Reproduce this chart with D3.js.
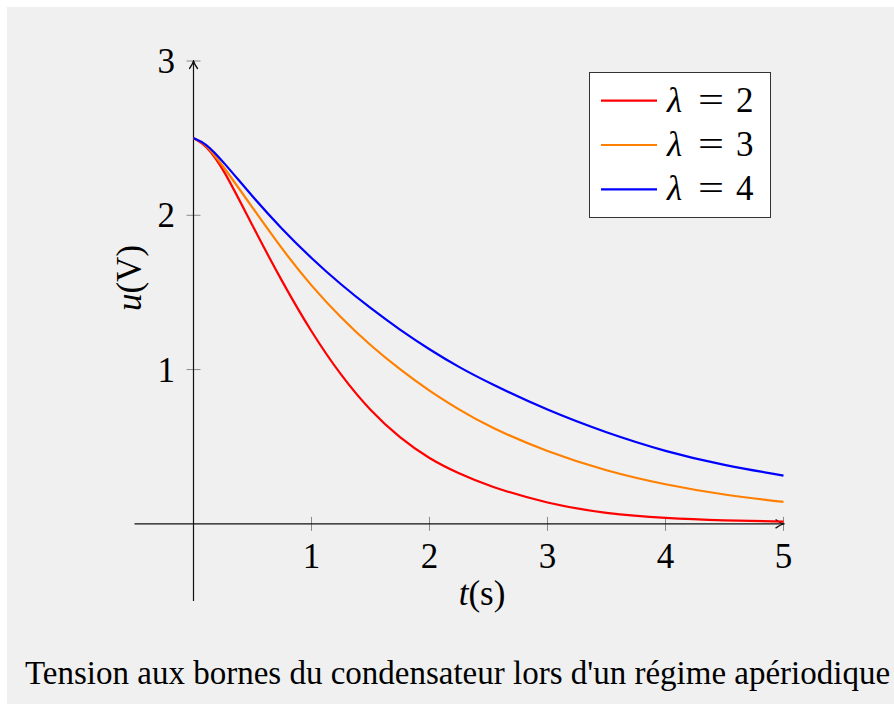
<!DOCTYPE html>
<html>
<head>
<meta charset="utf-8">
<script src="https://cdn.jsdelivr.net/npm/d3@7"></script>
<style>
  body { margin: 0; background: #fff; }
  svg { display: block; }
  text { font-family: "Liberation Serif", "DejaVu Serif", serif; fill: #000; }
</style>
</head>
<body>
<svg width="894" height="704"></svg>
<script>
// values
const tValues = [0, 0.1, 0.25, 0.5, 0.75, 1, 1.25, 1.5, 1.75, 2, 2.25, 2.5, 3, 3.5, 4, 4.5, 5];
const uLambda2 = [2.5, 2.46, 2.31, 1.93, 1.57, 1.24, 0.96, 0.73, 0.555, 0.42, 0.325, 0.245, 0.13, 0.066, 0.036, 0.022, 0.015];
const uLambda3 = [2.5, 2.47, 2.32, 2.05, 1.78, 1.54, 1.335, 1.155, 1.0, 0.86, 0.74, 0.63, 0.465, 0.342, 0.253, 0.187, 0.142];
const uLambda4 = [2.5, 2.47, 2.35, 2.12, 1.91, 1.72, 1.55, 1.397, 1.257, 1.13, 1.015, 0.915, 0.735, 0.59, 0.468, 0.378, 0.313];
const lambdas = [2, 3, 4];
const colors = ['#ff0000', '#ff8000', '#0000ff'];
const xTicks = [1, 2, 3, 4, 5];
const yTicks = [1, 2, 3];
const caption = "Tension aux bornes du condensateur lors d'un régime apériodique";

const series = [uLambda2, uLambda3, uLambda4].map((u, i) => ({
  lambda: lambdas[i],
  color: colors[i],
  points: tValues.map((t, j) => [t, u[j]])
}));

const svg = d3.select('svg');
const serif = '"Liberation Serif", "DejaVu Serif", serif';

// gray frame
svg.append('rect')
  .attr('x', 7).attr('y', 7)
  .attr('width', 887).attr('height', 697)
  .attr('fill', '#f0f0f0');

const x = d3.scaleLinear().domain([-0.5, 5]).range([134.5, 783.5]);
const y = d3.scaleLinear().domain([-0.5, 3]).range([601, 61]);

const defs = svg.append('defs');
defs.append('marker')
  .attr('id', 'arrow')
  .attr('viewBox', '-9 -5 10 10')
  .attr('refX', 0).attr('refY', 0)
  .attr('markerWidth', 10).attr('markerHeight', 10)
  .attr('markerUnits', 'userSpaceOnUse')
  .attr('orient', 'auto')
  .append('path')
  .attr('d', 'M-7.5,-4 Q-3,-0.8 0,0 Q-3,0.8 -7.5,4')
  .attr('fill', 'none')
  .attr('stroke', '#111')
  .attr('stroke-width', 1.3)
  .attr('stroke-linecap', 'round');

// ticks
const tickG = svg.append('g').attr('stroke', '#8a8a8a').attr('stroke-width', 1);
tickG.selectAll('.xt').data(xTicks).join('line')
  .attr('x1', d => x(d)).attr('x2', d => x(d))
  .attr('y1', y(0) - 7).attr('y2', y(0) + 7);
tickG.selectAll('.yt').data(yTicks).join('line')
  .attr('y1', d => y(d)).attr('y2', d => y(d))
  .attr('x1', x(0) - 7).attr('x2', x(0) + 7);

// axes
svg.append('line')
  .attr('x1', x(-0.5)).attr('x2', x(5))
  .attr('y1', y(0)).attr('y2', y(0))
  .attr('stroke', '#111').attr('stroke-width', 1.2)
  .attr('marker-end', 'url(#arrow)');
svg.append('line')
  .attr('x1', x(0)).attr('x2', x(0))
  .attr('y1', y(-0.5)).attr('y2', y(3))
  .attr('stroke', '#111').attr('stroke-width', 1.2)
  .attr('marker-end', 'url(#arrow)');

// curves
const line = d3.line()
  .x(d => x(d[0]))
  .y(d => y(d[1]))
  .curve(d3.curveBasis);

svg.append('g').selectAll('path').data(series).join('path')
  .attr('d', d => line(d.points))
  .attr('fill', 'none')
  .attr('stroke', d => d.color)
  .attr('stroke-width', 2.2);

// tick labels
svg.append('g').selectAll('text').data(xTicks).join('text')
  .attr('x', d => x(d))
  .attr('y', y(0) + 44)
  .attr('text-anchor', 'middle')
  .attr('font-family', serif)
  .attr('font-size', 35)
  .text(d => d);

svg.append('g').selectAll('text').data(yTicks).join('text')
  .attr('x', 175)
  .attr('y', d => y(d) + 12)
  .attr('text-anchor', 'end')
  .attr('font-family', serif)
  .attr('font-size', 35)
  .text(d => d);

// axis labels
const xl = svg.append('text')
  .attr('x', 482).attr('y', 605)
  .attr('text-anchor', 'middle')
  .attr('font-family', serif)
  .attr('font-size', 35);
xl.append('tspan').attr('font-style', 'italic').text('t');
xl.append('tspan').text('(s)');

const yl = svg.append('text')
  .attr('transform', 'translate(141,278) rotate(-90)')
  .attr('text-anchor', 'middle')
  .attr('font-family', serif)
  .attr('font-size', 35);
yl.append('tspan').attr('font-style', 'italic').text('u');
yl.append('tspan').text('(V)');

// legend
const legend = svg.append('g');
legend.append('rect')
  .attr('x', 589.5).attr('y', 72.5)
  .attr('width', 181).attr('height', 145)
  .attr('fill', '#fff')
  .attr('stroke', '#333').attr('stroke-width', 1);

const rows = legend.selectAll('g.row').data(series).join('g')
  .attr('class', 'row')
  .attr('transform', (d, i) => `translate(0, ${100.7 + i * 44.3})`);
rows.append('line')
  .attr('x1', 601).attr('x2', 657)
  .attr('stroke', d => d.color)
  .attr('stroke-width', 2.2);
rows.append('text')
  .attr('x', 667).attr('y', 11)
  .attr('font-family', serif)
  .attr('font-size', 35).attr('font-style', 'italic')
  .text('λ');
rows.append('text')
  .attr('x', 698).attr('y', 11)
  .attr('font-family', serif)
  .attr('font-size', 35)
  .attr('textLength', 26).attr('lengthAdjust', 'spacingAndGlyphs')
  .text('=');
rows.append('text')
  .attr('x', 736).attr('y', 11)
  .attr('font-family', serif)
  .attr('font-size', 35)
  .text(d => d.lambda);

// caption
svg.append('text')
  .attr('x', 25).attr('y', 684)
  .attr('font-family', serif)
  .attr('font-size', 33)
  .text(caption);
</script>
</body>
</html>
